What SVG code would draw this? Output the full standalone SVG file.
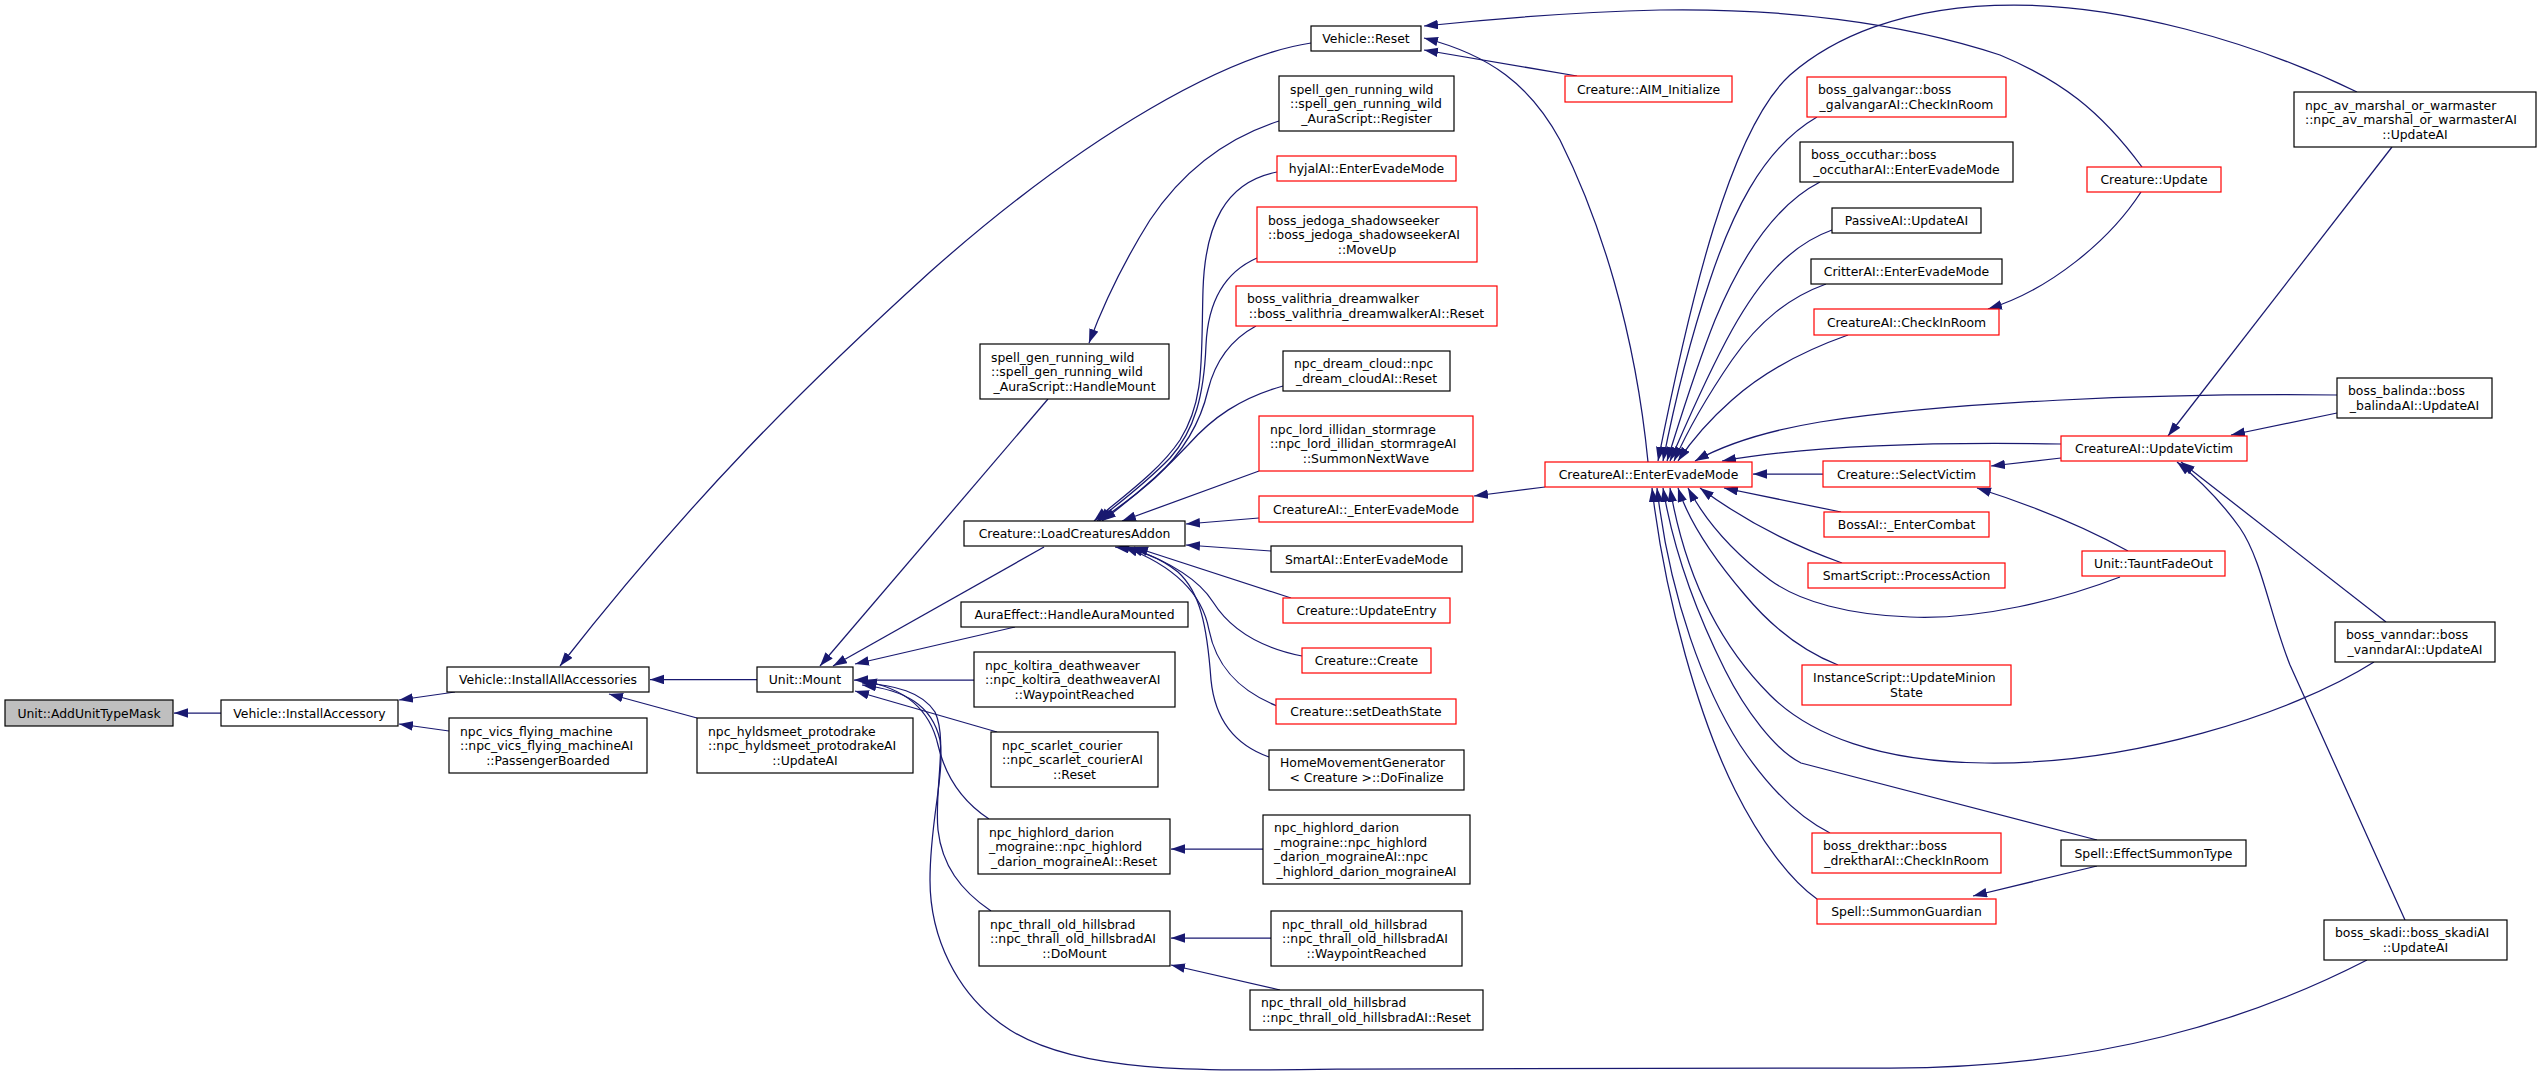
<svg xmlns="http://www.w3.org/2000/svg" width="2541" height="1081" viewBox="0 0 2541 1081">
<style>
.bg{fill:#fff}
.n rect{fill:#fff;stroke:#000;stroke-width:1.2}
.n.r rect{stroke:#f00}
.n.g rect{fill:#bfbfbf}
text{font-family:"DejaVu Sans","Liberation Sans",sans-serif;font-size:12.4px;fill:#000}
.c{text-anchor:middle}
#edges path{fill:none;stroke:#191970;stroke-width:1.25;marker-end:url(#ah)}
</style>
<defs>
<marker id="ah" markerUnits="userSpaceOnUse" markerWidth="14" markerHeight="10" refX="14" refY="4.75" orient="auto">
<path d="M0,0 L14,4.75 L0,9.5 Z" fill="#191970"/>
</marker>
</defs>
<rect class="bg" x="0" y="0" width="2541" height="1081"/>
<g id="edges">
<path d="M221,713 L174,713"/>
<path d="M455,692 L399,700"/>
<path d="M449,731 L399,724"/>
<path d="M1311,43 C1230,55 1090,130 930,272 C800,390 690,500 560,666"/>
<path d="M757,679.5 L650,679.5"/>
<path d="M697,718 L609,694"/>
<path d="M1048,399 L820,666"/>
<path d="M1044,547 L833,666"/>
<path d="M1015,627 L855,664"/>
<path d="M974,680 L854,680"/>
<path d="M997,732 L855,691"/>
<path d="M989,819 C960,800 945,775 938,745 C930,710 905,688 863,681"/>
<path d="M991,911 C960,890 942,865 938,830 C934,790 948,740 935,712 C922,692 895,685 862,683"/>
<path d="M2367,960 C2250,1020 2100,1068 1890,1068 L1350,1069 C1200,1071 1080,1074 1010,1030 C955,995 930,935 930,880 C930,820 945,775 940,740 C932,705 905,690 862,685"/>
<path d="M1279,121 C1220,140 1180,175 1150,220 C1125,260 1105,300 1089,343"/>
<path d="M1277,172 C1225,182 1205,225 1203,290 C1201,360 1205,400 1180,440 C1160,470 1125,495 1094,521"/>
<path d="M1257,258 C1225,272 1208,300 1206,345 C1204,395 1195,430 1170,458 C1145,484 1120,502 1097,521"/>
<path d="M1256,326 C1230,340 1215,362 1208,390 C1200,425 1180,455 1155,478 C1135,496 1118,508 1099,521"/>
<path d="M1283,386 C1240,398 1212,418 1188,445 C1160,475 1130,500 1102,521"/>
<path d="M1259,471 L1122,521"/>
<path d="M1259,518 L1186,524"/>
<path d="M1271,551 L1186,545"/>
<path d="M1291,598 L1134,547"/>
<path d="M1302,656 C1262,648 1232,632 1213,602 C1198,578 1165,560 1129,547"/>
<path d="M1277,706 C1237,690 1216,665 1209,630 C1202,592 1172,565 1124,547"/>
<path d="M1269,757 C1235,745 1215,720 1211,680 C1207,625 1200,592 1178,572 C1158,556 1138,550 1115,547"/>
<path d="M1545,487 L1474,496"/>
<path d="M2142,167 C2100,110 2060,80 2000,55 C1900,22 1780,8 1660,10 C1580,12 1500,18 1424,26"/>
<path d="M2357,92 C2250,40 2120,5 2014,5 C1900,5 1830,40 1790,75 C1730,130 1690,300 1658,461"/>
<path d="M1648,462 C1635,330 1600,220 1560,140 C1530,85 1490,55 1424,38"/>
<path d="M1577,76 L1424,50"/>
<path d="M2141,192 C2110,240 2050,290 1988,309"/>
<path d="M1817,117 C1760,150 1730,220 1710,280 C1690,340 1675,400 1663,461"/>
<path d="M1820,182 C1775,205 1740,260 1715,320 C1695,370 1680,420 1667,461"/>
<path d="M1832,230 C1790,245 1760,280 1732,330 C1707,375 1688,420 1670,461"/>
<path d="M1826,284 C1790,297 1760,320 1732,360 C1708,395 1690,425 1674,461"/>
<path d="M1848,335 C1800,352 1760,375 1732,400 C1707,422 1692,440 1678,461"/>
<path d="M2337,395 C2150,393 1950,402 1820,422 C1760,432 1722,446 1695,461"/>
<path d="M2061,444 C1950,442 1820,444 1722,461"/>
<path d="M1823,474 L1753,474"/>
<path d="M2061,458 L1991,466"/>
<path d="M2337,413 L2231,435"/>
<path d="M2392,147 L2168,436"/>
<path d="M2128,551 C2090,530 2040,508 1977,488"/>
<path d="M2120,577 C2060,600 1980,620 1910,617 C1850,615 1800,602 1770,580 C1730,550 1705,520 1688,488"/>
<path d="M1842,563 C1800,548 1750,525 1700,488"/>
<path d="M1841,512 L1724,488"/>
<path d="M1838,665 C1800,650 1770,625 1745,595 C1715,560 1690,525 1678,488"/>
<path d="M2374,662 C2290,715 2130,765 1985,763 C1880,762 1810,735 1770,695 C1720,645 1685,575 1670,488"/>
<path d="M2097,840 L1801,763 C1775,750 1745,710 1725,670 C1700,620 1675,560 1663,488"/>
<path d="M1830,833 C1800,818 1770,790 1740,745 C1705,690 1670,600 1657,488"/>
<path d="M1817,899 C1790,880 1760,840 1735,790 C1700,720 1665,600 1652,488"/>
<path d="M2386,622 L2181,462"/>
<path d="M2405,920 C2360,820 2310,710 2290,665 C2270,615 2262,560 2240,528 C2220,500 2200,480 2177,462"/>
<path d="M2097,866 L1973,896"/>
<path d="M1280,990 L1171,965"/>
<path d="M1271,938 L1171,938"/>
<path d="M1263,849 L1171,849"/>
</g>
<g id="n1" class="n g"><rect x="5" y="700" width="168" height="26"/><text class="c" x="89" y="717.5">Unit::AddUnitTypeMask</text></g>
<g id="n2" class="n"><rect x="221" y="700" width="177" height="26"/><text class="c" x="309.5" y="717.5">Vehicle::InstallAccessory</text></g>
<g id="n3" class="n"><rect x="447" y="667" width="202" height="25"/><text class="c" x="548" y="684">Vehicle::InstallAllAccessories</text></g>
<g id="n4" class="n"><rect x="449" y="718" width="198" height="55"/><text x="460" y="735.5">npc_vics_flying_machine</text><text x="460" y="750">::npc_vics_flying_machineAI</text><text class="c" x="548" y="764.5">::PassengerBoarded</text></g>
<g id="n5" class="n"><rect x="757" y="667" width="96" height="25"/><text class="c" x="805" y="684">Unit::Mount</text></g>
<g id="n6" class="n"><rect x="697" y="718" width="216" height="55"/><text x="708" y="735.5">npc_hyldsmeet_protodrake</text><text x="708" y="750">::npc_hyldsmeet_protodrakeAI</text><text class="c" x="805" y="764.5">::UpdateAI</text></g>
<g id="n7" class="n"><rect x="980" y="344" width="189" height="55"/><text x="991" y="361.5">spell_gen_running_wild</text><text x="991" y="376">::spell_gen_running_wild</text><text class="c" x="1074.5" y="390.5">_AuraScript::HandleMount</text></g>
<g id="n8" class="n"><rect x="964" y="521" width="221" height="25"/><text class="c" x="1074.5" y="538">Creature::LoadCreaturesAddon</text></g>
<g id="n9" class="n"><rect x="961" y="602" width="227" height="25"/><text class="c" x="1074.5" y="619">AuraEffect::HandleAuraMounted</text></g>
<g id="n10" class="n"><rect x="974" y="652" width="201" height="55"/><text x="985" y="669.5">npc_koltira_deathweaver</text><text x="985" y="684">::npc_koltira_deathweaverAI</text><text class="c" x="1074.5" y="698.5">::WaypointReached</text></g>
<g id="n11" class="n"><rect x="991" y="732" width="167" height="55"/><text x="1002" y="749.5">npc_scarlet_courier</text><text x="1002" y="764">::npc_scarlet_courierAI</text><text class="c" x="1074.5" y="778.5">::Reset</text></g>
<g id="n12" class="n"><rect x="978" y="819" width="192" height="55"/><text x="989" y="836.5">npc_highlord_darion</text><text x="989" y="851">_mograine::npc_highlord</text><text class="c" x="1074" y="865.5">_darion_mograineAI::Reset</text></g>
<g id="n13" class="n"><rect x="979" y="911" width="191" height="55"/><text x="990" y="928.5">npc_thrall_old_hillsbrad</text><text x="990" y="943">::npc_thrall_old_hillsbradAI</text><text class="c" x="1074.5" y="957.5">::DoMount</text></g>
<g id="n14" class="n"><rect x="1311" y="26" width="110" height="25"/><text class="c" x="1366" y="43">Vehicle::Reset</text></g>
<g id="n15" class="n"><rect x="1279" y="76" width="175" height="55"/><text x="1290" y="93.5">spell_gen_running_wild</text><text x="1290" y="108">::spell_gen_running_wild</text><text class="c" x="1366.5" y="122.5">_AuraScript::Register</text></g>
<g id="n16" class="n r"><rect x="1277" y="156" width="179" height="25"/><text class="c" x="1366.5" y="173">hyjalAI::EnterEvadeMode</text></g>
<g id="n17" class="n r"><rect x="1257" y="207" width="220" height="55"/><text x="1268" y="224.5">boss_jedoga_shadowseeker</text><text x="1268" y="239">::boss_jedoga_shadowseekerAI</text><text class="c" x="1367" y="253.5">::MoveUp</text></g>
<g id="n18" class="n r"><rect x="1236" y="286" width="261" height="40"/><text x="1247" y="303.25">boss_valithria_dreamwalker</text><text class="c" x="1366.5" y="317.75">::boss_valithria_dreamwalkerAI::Reset</text></g>
<g id="n19" class="n"><rect x="1283" y="351" width="167" height="40"/><text x="1294" y="368.25">npc_dream_cloud::npc</text><text class="c" x="1366.5" y="382.75">_dream_cloudAI::Reset</text></g>
<g id="n20" class="n r"><rect x="1259" y="416" width="214" height="55"/><text x="1270" y="433.5">npc_lord_illidan_stormrage</text><text x="1270" y="448">::npc_lord_illidan_stormrageAI</text><text class="c" x="1366" y="462.5">::SummonNextWave</text></g>
<g id="n21" class="n r"><rect x="1259" y="496" width="214" height="26"/><text class="c" x="1366" y="513.5">CreatureAI::_EnterEvadeMode</text></g>
<g id="n22" class="n"><rect x="1271" y="546" width="191" height="26"/><text class="c" x="1366.5" y="563.5">SmartAI::EnterEvadeMode</text></g>
<g id="n23" class="n r"><rect x="1283" y="598" width="167" height="25"/><text class="c" x="1366.5" y="615">Creature::UpdateEntry</text></g>
<g id="n24" class="n r"><rect x="1302" y="648" width="129" height="25"/><text class="c" x="1366.5" y="665">Creature::Create</text></g>
<g id="n25" class="n r"><rect x="1276" y="699" width="180" height="25"/><text class="c" x="1366" y="716">Creature::setDeathState</text></g>
<g id="n26" class="n"><rect x="1269" y="750" width="195" height="40"/><text x="1280" y="767.25">HomeMovementGenerator</text><text class="c" x="1366.5" y="781.75">&lt; Creature &gt;::DoFinalize</text></g>
<g id="n27" class="n"><rect x="1263" y="815" width="207" height="69"/><text x="1274" y="832.25">npc_highlord_darion</text><text x="1274" y="846.75">_mograine::npc_highlord</text><text x="1274" y="861.25">_darion_mograineAI::npc</text><text class="c" x="1366.5" y="875.75">_highlord_darion_mograineAI</text></g>
<g id="n28" class="n"><rect x="1271" y="911" width="191" height="55"/><text x="1282" y="928.5">npc_thrall_old_hillsbrad</text><text x="1282" y="943">::npc_thrall_old_hillsbradAI</text><text class="c" x="1366.5" y="957.5">::WaypointReached</text></g>
<g id="n29" class="n"><rect x="1250" y="990" width="233" height="40"/><text x="1261" y="1007.25">npc_thrall_old_hillsbrad</text><text class="c" x="1366.5" y="1021.75">::npc_thrall_old_hillsbradAI::Reset</text></g>
<g id="n30" class="n r"><rect x="1565" y="76" width="167" height="26"/><text class="c" x="1648.5" y="93.5">Creature::AIM_Initialize</text></g>
<g id="n31" class="n r"><rect x="1545" y="462" width="207" height="25"/><text class="c" x="1648.5" y="479">CreatureAI::EnterEvadeMode</text></g>
<g id="n32" class="n r"><rect x="1807" y="77" width="199" height="40"/><text x="1818" y="94.25">boss_galvangar::boss</text><text class="c" x="1906.5" y="108.75">_galvangarAI::CheckInRoom</text></g>
<g id="n33" class="n"><rect x="1800" y="142" width="213" height="40"/><text x="1811" y="159.25">boss_occuthar::boss</text><text class="c" x="1906.5" y="173.75">_occutharAI::EnterEvadeMode</text></g>
<g id="n34" class="n"><rect x="1832" y="208" width="149" height="25"/><text class="c" x="1906.5" y="225">PassiveAI::UpdateAI</text></g>
<g id="n35" class="n"><rect x="1811" y="259" width="191" height="25"/><text class="c" x="1906.5" y="276">CritterAI::EnterEvadeMode</text></g>
<g id="n36" class="n r"><rect x="1814" y="309" width="185" height="26"/><text class="c" x="1906.5" y="326.5">CreatureAI::CheckInRoom</text></g>
<g id="n37" class="n r"><rect x="1823" y="461" width="167" height="26"/><text class="c" x="1906.5" y="478.5">Creature::SelectVictim</text></g>
<g id="n38" class="n r"><rect x="1824" y="512" width="165" height="25"/><text class="c" x="1906.5" y="529">BossAI::_EnterCombat</text></g>
<g id="n39" class="n r"><rect x="1808" y="563" width="197" height="25"/><text class="c" x="1906.5" y="580">SmartScript::ProcessAction</text></g>
<g id="n40" class="n r"><rect x="1802" y="665" width="209" height="40"/><text x="1813" y="682.25">InstanceScript::UpdateMinion</text><text class="c" x="1906.5" y="696.75">State</text></g>
<g id="n41" class="n r"><rect x="1812" y="833" width="189" height="40"/><text x="1823" y="850.25">boss_drekthar::boss</text><text class="c" x="1906.5" y="864.75">_drektharAI::CheckInRoom</text></g>
<g id="n42" class="n r"><rect x="1817" y="899" width="179" height="25"/><text class="c" x="1906.5" y="916">Spell::SummonGuardian</text></g>
<g id="n43" class="n r"><rect x="2087" y="167" width="134" height="25"/><text class="c" x="2154" y="184">Creature::Update</text></g>
<g id="n44" class="n r"><rect x="2061" y="436" width="186" height="25"/><text class="c" x="2154" y="453">CreatureAI::UpdateVictim</text></g>
<g id="n45" class="n r"><rect x="2082" y="551" width="143" height="25"/><text class="c" x="2153.5" y="568">Unit::TauntFadeOut</text></g>
<g id="n46" class="n"><rect x="2061" y="840" width="185" height="26"/><text class="c" x="2153.5" y="857.5">Spell::EffectSummonType</text></g>
<g id="n47" class="n"><rect x="2294" y="92" width="242" height="55"/><text x="2305" y="109.5">npc_av_marshal_or_warmaster</text><text x="2305" y="124">::npc_av_marshal_or_warmasterAI</text><text class="c" x="2415" y="138.5">::UpdateAI</text></g>
<g id="n48" class="n"><rect x="2337" y="378" width="155" height="40"/><text x="2348" y="395.25">boss_balinda::boss</text><text class="c" x="2414.5" y="409.75">_balindaAI::UpdateAI</text></g>
<g id="n49" class="n"><rect x="2335" y="622" width="160" height="40"/><text x="2346" y="639.25">boss_vanndar::boss</text><text class="c" x="2415" y="653.75">_vanndarAI::UpdateAI</text></g>
<g id="n50" class="n"><rect x="2324" y="920" width="183" height="40"/><text x="2335" y="937.25">boss_skadi::boss_skadiAI</text><text class="c" x="2415.5" y="951.75">::UpdateAI</text></g>
</svg>
